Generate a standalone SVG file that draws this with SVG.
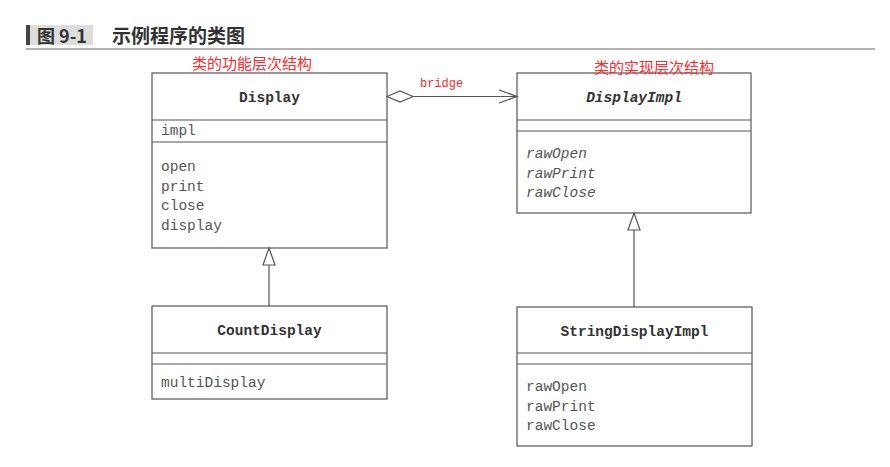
<svg xmlns="http://www.w3.org/2000/svg" width="890" height="467" viewBox="0 0 890 467">
<style>
.box{fill:#fff;stroke:#555;stroke-width:1.2}
.div{stroke:#555;stroke-width:1.2}
.t{font-family:"Liberation Mono",monospace;font-size:14.5px;font-weight:bold;fill:#333;text-anchor:middle}
.m{font-family:"Liberation Mono",monospace;font-size:14.5px;fill:#555}
.i{font-style:italic}
.red{font-family:"Noto Sans CJK SC",sans-serif;font-size:15px;fill:#ff2a2a}
.con{stroke:#555;stroke-width:1.2;fill:none}
</style>
<rect width="890" height="467" fill="#fff"/>
<g id="header">
<rect x="26" y="25" width="4" height="20" fill="#444"/>
<rect x="30" y="25" width="63" height="20" fill="#ddd"/>
<text x="37" y="42.5" font-family="Noto Sans CJK SC,sans-serif" font-size="18" font-weight="bold" fill="#333">图 9-1</text>
<text x="112" y="43" font-family="Noto Sans CJK SC,sans-serif" font-size="19" font-weight="bold" fill="#333">示例程序的类图</text>
<line x1="26" y1="49" x2="875" y2="49" stroke="#666" stroke-width="1"/>
</g>
<g id="Display">
<rect class="box" x="152" y="73" width="235" height="175"/>
<line class="div" x1="152" y1="120" x2="387" y2="120"/>
<line class="div" x1="152" y1="142" x2="387" y2="142"/>
<text class="t" x="269.5" y="102">Display</text>
<text class="m" x="161" y="135">impl</text>
<text class="m" x="161" y="171">open</text>
<text class="m" x="161" y="190.5">print</text>
<text class="m" x="161" y="210">close</text>
<text class="m" x="161" y="229.5">display</text>
</g>
<g id="DisplayImpl">
<rect class="box" x="517" y="73" width="234" height="140"/>
<line class="div" x1="517" y1="120" x2="751" y2="120"/>
<line class="div" x1="517" y1="131" x2="751" y2="131"/>
<text class="t i" x="634" y="102">DisplayImpl</text>
<text class="m i" x="526" y="158">rawOpen</text>
<text class="m i" x="526" y="177.5">rawPrint</text>
<text class="m i" x="526" y="197">rawClose</text>
</g>
<g id="CountDisplay">
<rect class="box" x="152" y="306" width="235" height="93"/>
<line class="div" x1="152" y1="353" x2="387" y2="353"/>
<line class="div" x1="152" y1="364" x2="387" y2="364"/>
<text class="t" x="269.5" y="335">CountDisplay</text>
<text class="m" x="161" y="387">multiDisplay</text>
</g>
<g id="StringDisplayImpl">
<rect class="box" x="517" y="307" width="235" height="139"/>
<line class="div" x1="517" y1="353" x2="752" y2="353"/>
<line class="div" x1="517" y1="364" x2="752" y2="364"/>
<text class="t" x="634.5" y="336">StringDisplayImpl</text>
<text class="m" x="526" y="391">rawOpen</text>
<text class="m" x="526" y="410.5">rawPrint</text>
<text class="m" x="526" y="430">rawClose</text>
</g>
<text class="red" x="192" y="69">类的功能层次结构</text>
<text class="red" x="594" y="73">类的实现层次结构</text>
<g id="connectors">
<path class="con" d="M387 96.5 L400 91 L413 96.5 L400 102 Z" fill="#fff"/>
<line class="con" x1="413" y1="96.5" x2="517" y2="96.5"/>
<path class="con" d="M499 90 L517 96.5 L499 103"/>
<text x="420" y="87" font-family="Liberation Mono,monospace" font-size="12" fill="#ff2a2a">bridge</text>
<line class="con" x1="269" y1="306" x2="269" y2="265"/>
<path class="con" d="M269 248 L275 265 L263 265 Z" fill="#fff"/>
<line class="con" x1="634" y1="307" x2="634" y2="230"/>
<path class="con" d="M634 213 L640 230 L628 230 Z" fill="#fff"/>
</g>
</svg>
